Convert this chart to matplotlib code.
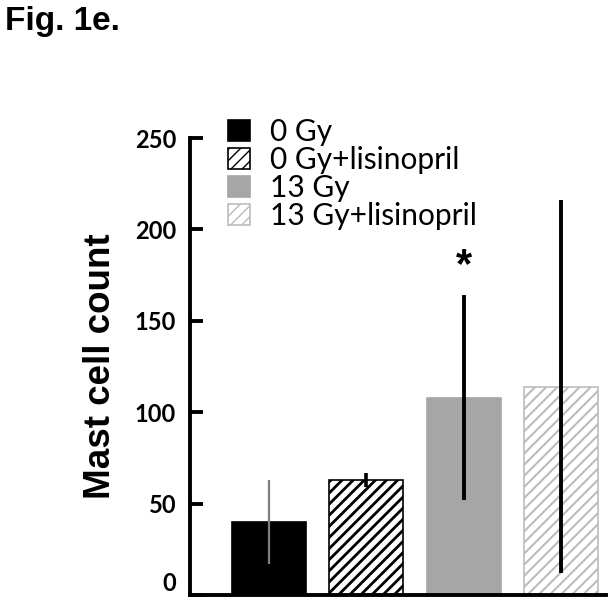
import matplotlib
matplotlib.use("Agg")
import matplotlib.pyplot as plt
from matplotlib.patches import Patch

groups = ["0 Gy", "0 Gy+lisinopril", "13 Gy", "13 Gy+lisinopril"]
means = [40, 63, 108, 114]
errors = [23, 3.7, 56, 102]
yticks = [0, 50, 100, 150, 200, 250]

face = ["black", "white", "#a6a6a6", "white"]
edge = ["black", "black", "#a6a6a6", "#bcbcbc"]
hatch = [None, "///", None, "///"]
hatch_lw = [1.0, 2.0, 1.0, 1.5]
err_col = ["#7f7f7f", "black", "black", "black"]
err_lw = [1.6, 2.6, 2.8, 2.8]

fig = plt.figure(figsize=(6.12, 6.04), dpi=100)
ax = fig.add_axes([0.3105, 0.0149, 0.6795, 0.7566])

x = list(range(len(groups)))
for i in x:
    with plt.rc_context({"hatch.linewidth": hatch_lw[i]}):
        ax.bar(i, means[i], width=0.76, color=face[i], edgecolor=edge[i],
               hatch=hatch[i], linewidth=1.2, zorder=2)
    ax.errorbar(i, means[i], yerr=errors[i], fmt="none", ecolor=err_col[i],
                elinewidth=err_lw[i], capsize=0, zorder=3)

ax.text(2, 180, "*", ha="center", va="center", fontsize=30,
        fontweight="bold", family="Liberation Sans")

ax.set_xlim(-0.807, 3.46)
ax.set_ylim(0, 250)
ax.set_xticks([])
ax.set_yticks(yticks)
ax.set_yticklabels([str(t) for t in yticks], fontsize=17, fontweight="bold",
                   family="Lato")
ax.get_yticklabels()[0].set_va("bottom")
ax.tick_params(axis="y", direction="in", length=9, width=2.8, pad=10)
for s in ["top", "right"]:
    ax.spines[s].set_visible(False)
ax.spines["left"].set_linewidth(2.8)
ax.spines["bottom"].set_linewidth(2.8)

ax.set_ylabel("Mast cell count", fontsize=26.5, fontweight="bold",
              family="Liberation Sans", labelpad=12)

handles = []
for i in x:
    with plt.rc_context({"hatch.linewidth": hatch_lw[i]}):
        handles.append(Patch(facecolor=face[i], edgecolor=edge[i],
                             hatch=hatch[i], linewidth=1.2))
leg = ax.legend(handles, groups, loc="upper left",
                bbox_to_anchor=(228 / 612, 1 - 118 / 604),
                bbox_transform=fig.transFigure, frameon=False,
                prop={"family": "Lato", "size": 21.5},
                handlelength=0.72, handleheight=0.72, handletextpad=0.67,
                labelspacing=0.0, borderpad=0, borderaxespad=0)

fig.text(0.008, 0.99, "Fig. 1e.", ha="left", va="top", fontsize=24,
         fontweight="bold", family="Liberation Sans")

fig.savefig("out.png", dpi=100)
